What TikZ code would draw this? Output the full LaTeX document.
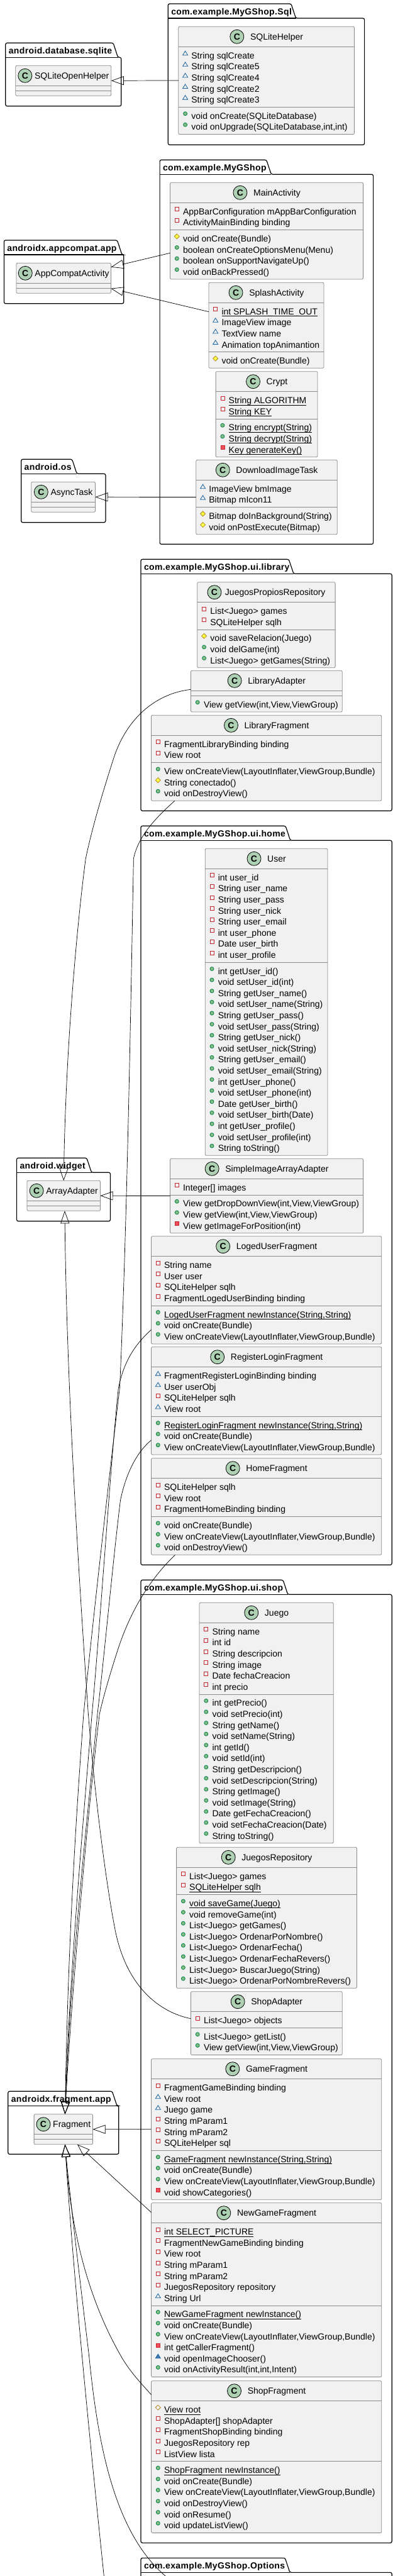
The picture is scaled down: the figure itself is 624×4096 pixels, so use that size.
\documentclass[tikz,border=0pt]{standalone}
\usepackage{fontspec}
\setmainfont{Liberation Sans}
\newfontfamily\pkgfont[LetterSpace=2.6]{Liberation Sans}
\usetikzlibrary{arrows.meta}
\definecolor{boxfill}{HTML}{F1F1F1}
\definecolor{boxline}{HTML}{8A8A8A}
\definecolor{cgreen}{HTML}{ADD1B2}
\definecolor{prvred}{HTML}{C82930}
\definecolor{prvfill}{HTML}{F24D5C}
\definecolor{pkgblue}{HTML}{1963A0}
\definecolor{pkgfill}{HTML}{4177AF}
\definecolor{publine}{HTML}{038048}
\definecolor{pubfill}{HTML}{84BE84}
\definecolor{proline}{HTML}{B38D22}
\definecolor{profill}{HTML}{FFFF44}
\newcommand{\ulined}[1]{\setbox0\hbox{#1}\rlap{\rule[-2.6pt]{\wd0}{0.8pt}}\box0}
\tikzset{>={Triangle[open,length=20pt,width=14pt]}, line/.style={line width=0.7pt, black},
pkgline/.style={draw=black, fill=white, line width=1.2pt},
pkgtitle/.style={anchor=base west, inner sep=0pt, font=\fontsize{14}{17}\pkgfont\bfseries},
classbox/.style={draw=boxline, fill=boxfill, line width=0.8pt, rounded corners=2pt, anchor=north west, inner sep=0pt, outer sep=0pt},
sepline/.style={draw=boxline, line width=0.8pt},
classtitle/.style={anchor=base, inner sep=0pt, font=\fontsize{14}{17}\selectfont},
cmark/.style={circle, draw=black, fill=cgreen, line width=0.8pt, minimum size=22pt, inner sep=0pt, anchor=east, font=\fontsize{14}{17}\selectfont\bfseries},
rowtext/.style={anchor=base west, inner sep=0pt, font=\fontsize{14}{17}\selectfont},
pics/prv/.style={code={\draw[prvred, line width=0.8pt] (-3,-3) rectangle (3,3);}},
pics/prvm/.style={code={\draw[prvred, fill=prvfill, line width=0.8pt] (-3,-3) rectangle (3,3);}},
pics/pkg/.style={code={\draw[pkgblue, line width=0.8pt] (-4,3) -- (0,-3.5) -- (4,3) -- cycle;}},
pics/pkgm/.style={code={\draw[pkgblue, fill=pkgfill, line width=0.8pt] (-4,3) -- (0,-3.5) -- (4,3) -- cycle;}},
pics/pub/.style={code={\draw[publine, fill=pubfill, line width=0.8pt] (0,0) circle (3pt);}},
pics/pro/.style={code={\draw[proline, fill=profill, line width=0.8pt] (-4,0) -- (0,-4) -- (4,0) -- (0,4) -- cycle;}},
pics/prof/.style={code={\draw[proline, line width=0.8pt] (-4,0) -- (0,-4) -- (4,0) -- (0,4) -- cycle;}}}
% package: name, left, tab top, right, bottom, tab end, title
\newcommand{\umlpackage}[7]{%
  \pgfmathsetmacro\yt{#3+23}
  \draw[pkgline, rounded corners=2.5pt] (#2,\yt) -- (#2,#3) -- (#6-7.6,#3) -- (#6,\yt) -- (#4,\yt) -- (#4,#5) -- (#2,#5) -- cycle;
  \draw[pkgline] (#2,\yt) -- (#6,\yt);
  \node[pkgtitle] (#1) at (#2+4.8,#3+17) {#7};
}
% class: [gap], name, left, top, right, fields, methods, title
\newcommand{\umlclass}[8][9.6]{%
  \pgfmathsetmacro\xa{#3}
  \pgfmathsetmacro\ya{#4+32}
  \pgfmathsetmacro\yb{\ya+#6*17.6+8}
  \pgfmathsetmacro\yc{\yb+#7*17.6+8}
  \pgfmathsetmacro\xm{(#3+#5)/2+11.6+#1/2}
  \pgfmathsetmacro\ww{#5-#3}
  \pgfmathsetmacro\hh{\yc-#4}
  \node[classbox, minimum width=\ww pt, minimum height=\hh pt] (#2) at (#3,#4) {};
  \draw[sepline] (#3,\ya) -- (#5,\ya);
  \draw[sepline] (#3,\yb) -- (#5,\yb);
  \node[classtitle] (#2-t) at (\xm,#4+21) {#8};
  \node[cmark] (#2-c) at ([xshift=-#1pt,yshift=5pt]#2-t.base west) {C};
}
\newcommand{\rowlist}[3]{%
  \foreach[count=\rowi] \vis/\txt in {#3} {
    \pgfmathsetmacro\yy{#2+19+(\rowi-1)*17.6}
    \pic at (\xa+10.8,\yy-8.6) {\vis};
    \node[rowtext] (#1\rowi) at (\xa+20.4,\yy) {\txt};
  }
}
\newcommand{\attrs}[2]{\rowlist{#1-a}{\ya}{#2}}
\newcommand{\meths}[2]{\rowlist{#1-m}{\yb}{#2}}
\begin{document}
\begin{tikzpicture}[x=1pt, y=-1pt]
\path[use as bounding box, clip] (0,0) rectangle (624,4096);
% Packages
\umlpackage{pkgsqlite}{8.8}{68.3}{192.8}{168.7}{187.6}{android.database.sqlite}
\umlpackage{pkgsql}{267.3}{6}{579.6}{230.3}{470.5}{com.example.MyGShop.Sql}
\umlpackage{pkgmain}{254.1}{254.3}{593.6}{865.3}{431.3}{com.example.MyGShop}
\umlpackage{pkgcompat}{6.4}{382}{196.8}{482.7}{194}{androidx.appcompat.app}
\umlpackage{pkgos}{33.7}{730.3}{167.9}{830.7}{122.2}{android.os}
\umlpackage{pkglibrary}{224}{889.3}{623.2}{1289.3}{466.9}{com.example.MyGShop.ui.library}
\umlpackage{pkghome}{224}{1313.3}{623.2}{2488.3}{461.7}{com.example.MyGShop.ui.home}
\umlpackage{pkgshop}{224}{2512.3}{623.2}{4043.3}{457.7}{com.example.MyGShop.ui.shop}
\umlpackage{pkgoptions}{224}{4067.3}{623.2}{4300}{460.9}{com.example.MyGShop.Options}
\umlpackage{pkgwidget}{26.5}{1841.3}{175.5}{1941.7}{145.5}{android.widget}
\umlpackage{pkgfragment}{12.8}{3325.3}{188.8}{3425.3}{186}{androidx.fragment.app}

% Outside classes
\umlclass[3.6]{sqlopen}{24.8}{104.3}{176.8}{0}{0}{SQLiteOpenHelper}
\umlclass[3.6]{appcompat}{26}{418.3}{176.4}{0}{0}{AppCompatActivity}
\umlclass[3.6]{asynctask}{49.7}{766.3}{151.5}{0}{0}{AsyncTask}
\umlclass[3.6]{arrayad}{42.9}{1877.3}{159.5}{0}{0}{ArrayAdapter}
\umlclass[3.6]{fragment}{54.1}{3361.7}{147.5}{0}{0}{Fragment}

% Sql
\umlclass{sqlhelper}{283.8}{42.3}{563.5}{5}{2}{SQLiteHelper}
\attrs{sqlhelper}{pkg/{String sqlCreate}, pkg/{String sqlCreate5}, pkg/{String sqlCreate4}, pkg/{String sqlCreate2}, pkg/{String sqlCreate3}}
\meths{sqlhelper}{pub/{void onCreate(SQLiteDatabase)}, pub/{void onUpgrade(SQLiteDatabase,int,int)}}

% MyGShop
\umlclass{mainact}{270.5}{290.3}{577.6}{2}{4}{MainActivity}
\attrs{mainact}{prv/{AppBarConfiguration mAppBarConfiguration}, prv/{ActivityMainBinding binding}}
\meths{mainact}{pro/{void onCreate(Bundle)}, pub/{boolean onCreateOptionsMenu(Menu)}, pub/{boolean onSupportNavigateUp()}, pub/{void onBackPressed()}}
\umlclass{splash}{331.9}{449.3}{515}{4}{1}{SplashActivity}
\attrs{splash}{prv/{\ulined{int SPLASH\_TIME\_OUT}}, pkg/{ImageView image}, pkg/{TextView name}, pkg/{Animation topAnimantion}}
\meths{splash}{pro/{void onCreate(Bundle)}}
\umlclass{crypt}{343.1}{590.7}{505}{2}{3}{Crypt}
\attrs{crypt}{prv/{\ulined{String ALGORITHM}}, prv/{\ulined{String KEY}}}
\meths{crypt}{pub/{\ulined{String encrypt(String)}}, pub/{\ulined{String decrypt(String)}}, prvm/{\ulined{Key generateKey()}}}
\umlclass{dltask}{311.8}{731.3}{536.3}{2}{2}{DownloadImageTask}
\attrs{dltask}{pkg/{ImageView bmImage}, pkg/{Bitmap mIcon11}}
\meths{dltask}{pro/{Bitmap doInBackground(String)}, pro/{void onPostExecute(Bitmap)}}

% ui.library
\umlclass[5.4]{propiosrepo}{313.8}{925.7}{533.1}{2}{3}{JuegosPropiosRepository}
\attrs{propiosrepo}{prv/{List<Juego> games}, prv/{SQLiteHelper sqlh}}
\meths{propiosrepo}{pro/{void saveRelacion(Juego)}, pub/{void delGame(int)}, pub/{List<Juego> getGames(String)}}
\umlclass{libadapter}{303.4}{1066.3}{544.3}{0}{1}{LibraryAdapter}
\meths{libadapter}{pub/{View getView(int,View,ViewGroup)}}
\umlclass{libfrag}{240.5}{1137.3}{606.8}{2}{3}{LibraryFragment}
\attrs{libfrag}{prv/{FragmentLibraryBinding binding}, prv/{View root}}
\meths{libfrag}{pub/{View onCreateView(LayoutInflater,ViewGroup,Bundle)}, pro/{String conectado()}, pub/{void onDestroyView()}}

% ui.home
\umlclass{user}{326.2}{1349.3}{521}{8}{17}{User}
\attrs{user}{prv/{int user\_id}, prv/{String user\_name}, prv/{String user\_pass}, prv/{String user\_nick}, prv/{String user\_email}, prv/{int user\_phone}, prv/{Date user\_birth}, prv/{int user\_profile}}
\meths{user}{pub/{int getUser\_id()}, pub/{void setUser\_id(int)}, pub/{String getUser\_name()}, pub/{void setUser\_name(String)}, pub/{String getUser\_pass()}, pub/{void setUser\_pass(String)}, pub/{String getUser\_nick()}, pub/{void setUser\_nick(String)}, pub/{String getUser\_email()}, pub/{void setUser\_email(String)}, pub/{int getUser\_phone()}, pub/{void setUser\_phone(int)}, pub/{Date getUser\_birth()}, pub/{void setUser\_birth(Date)}, pub/{int getUser\_profile()}, pub/{void setUser\_profile(int)}, pub/{String toString()}}
\umlclass{simpleimg}{270.5}{1842.3}{577.6}{1}{3}{SimpleImageArrayAdapter}
\attrs{simpleimg}{prv/{Integer[] images}}
\meths{simpleimg}{pub/{View getDropDownView(int,View,ViewGroup)}, pub/{View getView(int,View,ViewGroup)}, prvm/{View getImageForPosition(int)}}
\umlclass{logedfrag}{240.5}{1965.7}{606.8}{4}{3}{LogedUserFragment}
\attrs{logedfrag}{prv/{String name}, prv/{User user}, prv/{SQLiteHelper sqlh}, prv/{FragmentLogedUserBinding binding}}
\meths{logedfrag}{pub/{\ulined{LogedUserFragment newInstance(String,String)}}, pub/{void onCreate(Bundle)}, pub/{View onCreateView(LayoutInflater,ViewGroup,Bundle)}}
\umlclass{registerfrag}{240.5}{2141.7}{606.8}{4}{3}{RegisterLoginFragment}
\attrs{registerfrag}{pkg/{FragmentRegisterLoginBinding binding}, pkg/{User userObj}, prv/{SQLiteHelper sqlh}, pkg/{View root}}
\meths{registerfrag}{pub/{\ulined{RegisterLoginFragment newInstance(String,String)}}, pub/{void onCreate(Bundle)}, pub/{View onCreateView(LayoutInflater,ViewGroup,Bundle)}}
\umlclass{homefrag}{240.5}{2318.7}{606.8}{3}{3}{HomeFragment}
\attrs{homefrag}{prv/{SQLiteHelper sqlh}, prv/{View root}, prv/{FragmentHomeBinding binding}}
\meths{homefrag}{pub/{void onCreate(Bundle)}, pub/{View onCreateView(LayoutInflater,ViewGroup,Bundle)}, pub/{void onDestroyView()}}

% ui.shop
\umlclass{juego}{317}{2548.3}{530.3}{6}{13}{Juego}
\attrs{juego}{prv/{String name}, prv/{int id}, prv/{String descripcion}, prv/{String image}, prv/{Date fechaCreacion}, prv/{int precio}}
\meths{juego}{pub/{int getPrecio()}, pub/{void setPrecio(int)}, pub/{String getName()}, pub/{void setName(String)}, pub/{int getId()}, pub/{void setId(int)}, pub/{String getDescripcion()}, pub/{void setDescripcion(String)}, pub/{String getImage()}, pub/{void setImage(String)}, pub/{Date getFechaCreacion()}, pub/{void setFechaCreacion(Date)}, pub/{String toString()}}
\umlclass{juegosrepo}{280.6}{2937.3}{567.5}{2}{8}{JuegosRepository}
\attrs{juegosrepo}{prv/{List<Juego> games}, prv/{\ulined{SQLiteHelper sqlh}}}
\meths{juegosrepo}{pub/{\ulined{void saveGame(Juego)}}, pub/{void removeGame(int)}, pub/{List<Juego> getGames()}, pub/{List<Juego> OrdenarPorNombre()}, pub/{List<Juego> OrdenarFecha()}, pub/{List<Juego> OrdenarFechaRevers()}, pub/{List<Juego> BuscarJuego(String)}, pub/{List<Juego> OrdenarPorNombreRevers()}}
\umlclass{shopadapter}{303.4}{3166.7}{544.3}{1}{2}{ShopAdapter}
\attrs{shopadapter}{prv/{List<Juego> objects}}
\meths{shopadapter}{pub/{List<Juego> getList()}, pub/{View getView(int,View,ViewGroup)}}
\umlclass{gamefrag}{240.5}{3273.7}{606.8}{6}{4}{GameFragment}
\attrs{gamefrag}{prv/{FragmentGameBinding binding}, pkg/{View root}, pkg/{Juego game}, prv/{String mParam1}, prv/{String mParam2}, prv/{SQLiteHelper sql}}
\meths{gamefrag}{pub/{\ulined{GameFragment newInstance(String,String)}}, pub/{void onCreate(Bundle)}, pub/{View onCreateView(LayoutInflater,ViewGroup,Bundle)}, prvm/{void showCategories()}}
\umlclass{newgamefrag}{240.5}{3502.7}{606.8}{7}{6}{NewGameFragment}
\attrs{newgamefrag}{prv/{\ulined{int SELECT\_PICTURE}}, prv/{FragmentNewGameBinding binding}, prv/{View root}, prv/{String mParam1}, prv/{String mParam2}, prv/{JuegosRepository repository}, pkg/{String Url}}
\meths{newgamefrag}{pub/{\ulined{NewGameFragment newInstance()}}, pub/{void onCreate(Bundle)}, pub/{View onCreateView(LayoutInflater,ViewGroup,Bundle)}, prvm/{int getCallerFragment()}, pkgm/{void openImageChooser()}, pub/{void onActivityResult(int,int,Intent)}}
\umlclass{shopfrag}{240.5}{3785.7}{606.8}{5}{6}{ShopFragment}
\attrs{shopfrag}{prof/{\ulined{View root}}, prv/{ShopAdapter[] shopAdapter}, prv/{FragmentShopBinding binding}, prv/{JuegosRepository rep}, prv/{ListView lista}}
\meths{shopfrag}{pub/{\ulined{ShopFragment newInstance()}}, pub/{void onCreate(Bundle)}, pub/{View onCreateView(LayoutInflater,ViewGroup,Bundle)}, pub/{void onDestroyView()}, pub/{void onResume()}, pub/{void updateListView()}}

% Inheritance
\draw[->,line] (sqlhelper.west) -- (sqlopen.east);
\draw[->,line] ([yshift=-35.2pt]mainact.west) -- ([yshift=17.6pt]appcompat.east);
\draw[->,line] ([yshift=21.6pt]splash.west) -- ([yshift=-16.4pt]appcompat.east);
\draw[->,line] (dltask.west) -- (asynctask.east);
\draw[->,line] (simpleimg.west) -- (arrayad.east);
\draw[->,line] (gamefrag.west) -- (fragment.east);
\draw[->,line] ([yshift=123.3pt]newgamefrag.west) -- ([xshift=22.2pt]fragment.south);
\draw[->,line] ([yshift=2.8pt]libadapter.west) .. controls (245,1103) and (200,1145) .. (180.4,1206.7)
  .. controls (165,1255) and (148,1310) .. (136.3,1365)
  .. controls (125,1450) and (105,1650) .. (arrayad.north);
\draw[->,line] ([yshift=7.4pt]shopadapter.west) .. controls (255,3200) and (200,3160) .. (182.4,3065)
  .. controls (168,2990) and (150,2850) .. (140,2720)
  .. controls (125,2500) and (106,2200) .. ([xshift=1.8pt]arrayad.south);
\draw[->,line] ([xshift=37.3pt]libfrag.south west) .. controls (245,1303) and (220,1330) .. (212.4,1365)
  .. controls (208,1600) and (202,1950) .. (190.4,2206.7)
  .. controls (178,2310) and (145,2600) .. (133,2725)
  .. controls (120,2900) and (108,3100) .. ([xshift=2.6pt]fragment.north);
\draw[->,line] ([yshift=-63pt]logedfrag.west) .. controls (218,2135) and (198,2160) .. (188.4,2206.7)
  .. controls (178,2300) and (158,2600) .. (146.3,2725)
  .. controls (132,2900) and (110,3150) .. ([xshift=2.6pt]fragment.north);
\draw[->,line] ([yshift=-62.7pt]registerfrag.west) .. controls (222,2305) and (202,2335) .. (191.6,2385)
  .. controls (182,2460) and (165,2640) .. (155,2725)
  .. controls (140,2880) and (112,3130) .. ([xshift=2.6pt]fragment.north);
\draw[->,line] ([xshift=38pt]homefrag.south west) .. controls (255,2495) and (215,2540) .. (188.4,2620)
  .. controls (177,2655) and (165,2695) .. (158.3,2725)
  .. controls (142,2860) and (115,3150) .. ([xshift=2.6pt]fragment.north);
\draw[->,line] ([yshift=98.8pt]shopfrag.west) .. controls (225,3790) and (205,3770) .. (190,3742)
  .. controls (155,3680) and (115,3580) .. ([xshift=2.6pt]fragment.south);
\coordinate (optionsa) at (172,4160);
\coordinate (optionsb) at (268,4100);
\draw[->,line] (optionsa) .. controls (150,3950) and (118,3640) .. ([xshift=2.6pt]fragment.south);
\draw[->,line] (optionsb) .. controls (180,4030) and (155,3880) .. (141.5,3745)
  .. controls (130,3650) and (112,3500) .. ([xshift=2.6pt]fragment.south);
\end{tikzpicture}
\end{document}
